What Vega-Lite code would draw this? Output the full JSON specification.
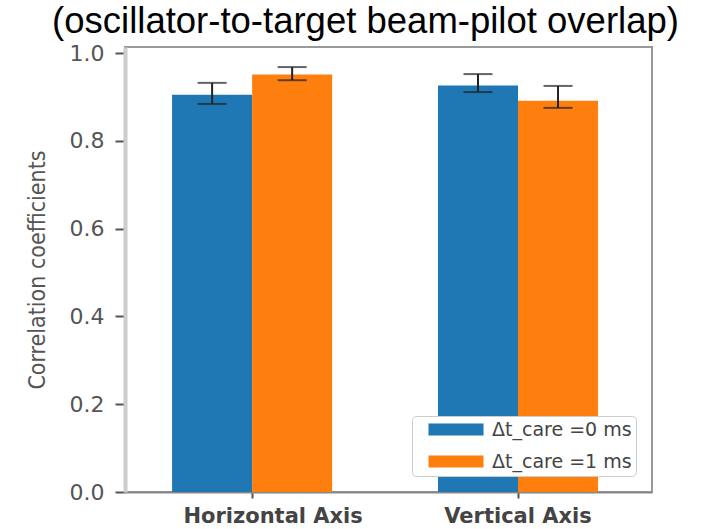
{
  "$schema": "https://vega.github.io/schema/vega-lite/v6.json",
  "width": 527,
  "height": 445,
  "autosize": {"type": "none"},
  "padding": {"left": 125, "top": 47, "right": 53, "bottom": 37},
  "background": "white",
  "title": {
    "text": "(oscillator-to-target beam-pilot overlap)",
    "font": "Liberation Sans",
    "fontSize": 36.5,
    "fontWeight": "normal",
    "color": "#000000",
    "anchor": "middle",
    "dx": -23,
    "offset": 2
  },
  "config": {
    "view": {"stroke": "#999999", "strokeWidth": 2},
    "axis": {"grid": false}
  },
  "data": {
    "values": [
      {"group": "Horizontal Axis", "series": "Δt_care =0 ms", "value": 0.905, "lo": 0.884, "hi": 0.932},
      {"group": "Horizontal Axis", "series": "Δt_care =1 ms", "value": 0.951, "lo": 0.938, "hi": 0.968},
      {"group": "Vertical Axis", "series": "Δt_care =0 ms", "value": 0.926, "lo": 0.911, "hi": 0.952},
      {"group": "Vertical Axis", "series": "Δt_care =1 ms", "value": 0.891, "lo": 0.875, "hi": 0.925}
    ]
  },
  "encoding": {
    "x": {
      "field": "group",
      "type": "nominal",
      "sort": ["Horizontal Axis", "Vertical Axis"],
      "scale": {"paddingInner": 0.398, "paddingOuter": 0.19, "align": 0.466},
      "axis": {
        "title": null,
        "labelAngle": 0,
        "labelFont": "DejaVu Sans",
        "labelFontSize": 21,
        "labelFontWeight": "bold",
        "labelColor": "#444444",
        "labelPadding": 7,
        "labelOffset": {"condition": {"test": "datum.value === 'Horizontal Axis'", "value": 21}, "value": 0},
        "tickSize": 6,
        "tickColor": "#555555",
        "tickWidth": 2,
        "domainColor": "#888888",
        "domainWidth": 2
      }
    },
    "xOffset": {
      "field": "series",
      "type": "nominal",
      "scale": {"paddingInner": 0, "paddingOuter": 0}
    }
  },
  "layer": [
    {
      "mark": {"type": "bar"},
      "encoding": {
        "y": {
          "field": "value",
          "type": "quantitative",
          "scale": {"domain": [0, 1.0137], "nice": false, "zero": true},
          "axis": {
            "title": "Correlation coefficients",
            "titleFont": "Liberation Sans Narrow, DejaVu Sans Condensed",
            "titleFontSize": 23,
            "titleFontWeight": "normal",
            "titleColor": "#555555",
            "titlePadding": 20,
            "values": [0, 0.2, 0.4, 0.6, 0.8, 1.0],
            "format": ".1f",
            "labelFont": "DejaVu Sans",
            "labelFontSize": 22,
            "labelColor": "#555555",
            "labelPadding": 11,
            "tickSize": 10,
            "tickColor": "#555555",
            "tickWidth": 2,
            "domainColor": "#cccccc",
            "domainWidth": 4
          }
        },
        "color": {
          "field": "series",
          "type": "nominal",
          "scale": {"range": ["#1f77b4", "#ff7f0e"]},
          "legend": {
            "title": null,
            "orient": "bottom-right",
            "offset": 16,
            "padding": 4,
            "strokeColor": "#cccccc",
            "fillColor": "white",
            "cornerRadius": 4,
            "symbolType": "M0.5,-1H9.67V1H0.5Z",
            "symbolSize": 144,
            "symbolStrokeWidth": 0,
            "symbolOpacity": 1,
            "labelFont": "DejaVu Sans",
            "labelFontSize": 19,
            "labelColor": "#444444",
            "labelOffset": 57,
            "rowPadding": 12
          }
        }
      }
    },
    {
      "mark": {"type": "rule", "color": "#222222", "strokeWidth": 2},
      "encoding": {
        "y": {"field": "lo", "type": "quantitative"},
        "y2": {"field": "hi"}
      }
    },
    {
      "mark": {"type": "tick", "color": "#222222", "thickness": 2, "size": 29},
      "encoding": {
        "y": {"field": "lo", "type": "quantitative"}
      }
    },
    {
      "mark": {"type": "tick", "color": "#222222", "thickness": 2, "size": 29},
      "encoding": {
        "y": {"field": "hi", "type": "quantitative"}
      }
    }
  ]
}
